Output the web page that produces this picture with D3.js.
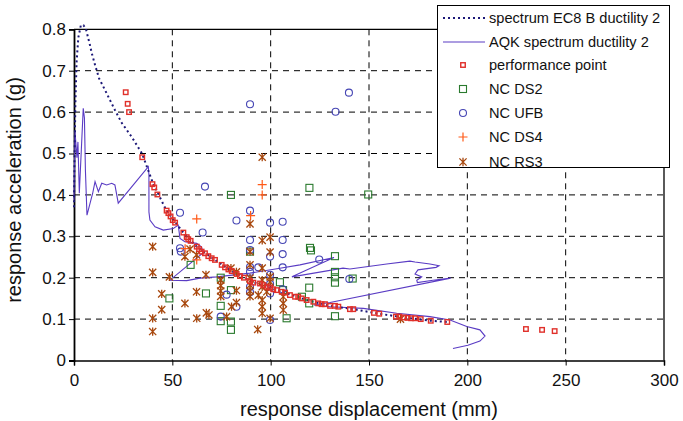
<!DOCTYPE html>
<html><head><meta charset="utf-8">
<script src="https://cdn.jsdelivr.net/npm/d3@7"></script>
<style>
html,body{margin:0;padding:0;background:#fff;}
svg{display:block;font-family:"Liberation Sans",Arial,sans-serif;}
</style></head>
<body><svg id="c" width="683" height="421"></svg>
<script>
// ---------- data ----------
const xTicks = [0, 50, 100, 150, 200, 250, 300];
const yTicks = [0, 0.1, 0.2, 0.3, 0.4, 0.5, 0.6, 0.7, 0.8];
const yTickLabels = ["0", "0.1", "0.2", "0.3", "0.4", "0.5", "0.6", "0.7", "0.8"];
const xTitle = "response displacement (mm)";
const yTitle = "response acceleration (g)";
const seriesNames = ["spectrum EC8 B ductility 2", "AQK spectrum ductility 2", "performance point", "NC DS2", "NC UFB", "NC DS4", "NC RS3"];

// EC8 spectrum (displacement mm, acceleration g)
const ec8 = [[0,0.37],[0.3,0.50],[0.7,0.62],[1.3,0.72],[2.2,0.78],[3.5,0.81],[4.8,0.81],[6.1,0.80],[8.1,0.762],[9.0,0.743],[10.7,0.714],[12.7,0.682],[15.8,0.653],[18.3,0.629],[20.8,0.605],[24.4,0.573],[29.5,0.539],[34.6,0.50],[40,0.43],[47,0.362],[55.6,0.309],[62.4,0.275],[71.7,0.243],[80.2,0.216],[89.5,0.192],[98,0.178],[107.3,0.164],[118.3,0.146],[130.2,0.132],[142,0.124],[155.2,0.113],[167.8,0.104],[181.4,0.096],[190,0.093]];

// AQK spectrum
const aqk = [[0,0.388],[0.5,0.553],[1.5,0.490],[2.0,0.528],[2.7,0.404],[4.7,0.609],[5.3,0.586],[5.8,0.460],[6.6,0.351],[9.5,0.404],[10.7,0.432],[12.4,0.408],[14.1,0.428],[16.6,0.424],[19.2,0.428],[20.8,0.424],[22.5,0.380],[37.8,0.468],[38.1,0.448],[38.1,0.359],[38.6,0.339],[41.2,0.323],[45.4,0.315],[50.5,0.319],[53.0,0.327],[53.9,0.295],[56.4,0.287],[62.4,0.283],[64.9,0.274],[65.6,0.260],[48.8,0.194],[57.3,0.193],[64.1,0.199],[72.6,0.202],[89.5,0.211],[104.7,0.223],[114.9,0.231],[132.2,0.249],[110.8,0.202],[136.8,0.223],[140.3,0.221],[159.0,0.233],[170.8,0.240],[173.4,0.238],[181.0,0.233],[185.6,0.229],[184.1,0.225],[174.9,0.219],[173.4,0.209],[176.8,0.202],[174.3,0.194],[174.6,0.188],[182.5,0.194],[191.5,0.199],[130.2,0.140],[122.0,0.134],[130.2,0.130],[147.1,0.126],[164.1,0.114],[181.0,0.106],[191.2,0.098],[199.7,0.082],[206.4,0.074],[209.0,0.059],[206.4,0.047],[200.3,0.037],[192.7,0.029]];

// performance points
const perf = [[26.3,0.648],[27.3,0.620],[28.0,0.600],[34.7,0.491],[39.9,0.426],[40.8,0.418],[42.4,0.401],[47.1,0.362],[48.0,0.356],[49.1,0.348],[50.2,0.339],[51.4,0.333],[55.6,0.309],[57.3,0.298],[58.1,0.293],[59.3,0.289],[62.4,0.275],[63.6,0.269],[64.9,0.263],[66.6,0.259],[68.3,0.252],[70.0,0.247],[71.7,0.243],[75.1,0.231],[76.8,0.225],[78.5,0.220],[80.2,0.216],[82.7,0.209],[84.4,0.204],[86.4,0.200],[89.5,0.192],[91.2,0.188],[94.6,0.186],[96.3,0.182],[98.0,0.178],[99.7,0.176],[101.3,0.172],[103.1,0.170],[105.6,0.166],[107.3,0.164],[109.8,0.158],[112.4,0.154],[114.0,0.154],[115.8,0.150],[118.3,0.146],[121.7,0.142],[124.2,0.138],[125.9,0.136],[127.6,0.136],[130.2,0.132],[132.7,0.132],[134.4,0.130],[140.3,0.124],[142.0,0.124],[152.5,0.115],[155.2,0.113],[163.7,0.106],[165.4,0.106],[167.8,0.104],[169.6,0.103],[171.4,0.102],[173.4,0.102],[176.3,0.100],[181.4,0.096],[189.8,0.093],[229.8,0.076],[238.0,0.074],[244.4,0.071]];

// NC DS2
const ds2 = [[79.8,0.400],[119.7,0.417],[149.6,0.401],[120.0,0.272],[120.5,0.266],[132.7,0.252],[132.7,0.214],[132.7,0.201],[132.7,0.188],[141.7,0.198],[119.6,0.176],[119.6,0.138],[132.7,0.107],[104.7,0.189],[106.3,0.170],[108.1,0.102],[115.9,0.154],[59.3,0.231],[48.5,0.150],[67.1,0.162],[74.6,0.200],[79.8,0.170],[74.6,0.132],[74.6,0.095],[79.8,0.094],[79.8,0.074],[89.5,0.263]];

// NC UFB
const ufb = [[89.5,0.619],[139.8,0.647],[133.0,0.601],[66.6,0.420],[53.9,0.357],[65.4,0.309],[53.9,0.271],[54.3,0.263],[82.6,0.338],[89.5,0.362],[89.5,0.291],[89.5,0.267],[89.5,0.226],[89.5,0.214],[89.5,0.178],[89.5,0.165],[77.6,0.159],[82.6,0.130],[74.6,0.106],[99.7,0.333],[106.1,0.335],[106.1,0.291],[99.7,0.251],[106.1,0.257],[106.1,0.225],[99.7,0.207],[99.7,0.185],[99.7,0.162],[106.1,0.172],[99.7,0.098],[93.7,0.225],[124.7,0.244],[140.0,0.197]];

// NC DS4
const ds4 = [[95.7,0.425],[95.7,0.400],[62.4,0.342],[89.8,0.350],[56.5,0.270],[62.4,0.243]];

// NC RS3
const rs3 = [[95.7,0.491],[40.0,0.275],[40.0,0.213],[48.5,0.202],[44.6,0.161],[44.6,0.123],[40.0,0.102],[40.0,0.070],[56.4,0.138],[56.4,0.251],[59.0,0.269],[62.3,0.255],[62.3,0.166],[62.4,0.102],[67.1,0.207],[67.3,0.115],[68.6,0.110],[74.6,0.194],[74.6,0.181],[74.6,0.168],[74.6,0.155],[77.6,0.106],[79.8,0.223],[82.6,0.214],[82.6,0.169],[82.6,0.140],[80.1,0.130],[89.5,0.330],[89.5,0.263],[89.5,0.231],[89.5,0.199],[89.5,0.182],[89.5,0.168],[89.5,0.155],[93.7,0.158],[95.7,0.290],[99.7,0.298],[99.7,0.262],[95.7,0.223],[95.7,0.194],[95.7,0.178],[98.0,0.166],[95.7,0.146],[95.7,0.130],[95.7,0.114],[99.7,0.202],[99.7,0.190],[99.7,0.102],[93.4,0.075],[106.4,0.154],[106.4,0.138],[106.4,0.122],[166.0,0.100]];

// ---------- drawing ----------
const svg = d3.select("#c");
const x = d3.scaleLinear().domain([0, 300]).range([74, 664]);
const y = d3.scaleLinear().domain([0, 0.8]).range([360.5, 29.3]);

const C = {ec8:"#1c1878", aqk:"#5a3cc4", perf:"#e0302a", ds2:"#2a7a2e", ufb:"#4646b4", ds4:"#ff5a18", rs3:"#a8480e"};

// grid
const grid = svg.append("g");
grid.selectAll("line.v").data(xTicks.filter(d => d > 0 && d < 300)).join("line")
  .attr("x1", d => x(d)).attr("x2", d => x(d)).attr("y1", y(0.8)).attr("y2", y(0))
  .attr("stroke", "#000").attr("stroke-width", 1).attr("stroke-dasharray", "6,5");
grid.selectAll("line.h").data(yTicks.filter(d => d > 0 && d < 0.8)).join("line")
  .attr("x1", x(0)).attr("x2", x(300)).attr("y1", d => y(d)).attr("y2", d => y(d))
  .attr("stroke", "#000").attr("stroke-width", 1).attr("stroke-dasharray", "6,5");

// frame (top/right)
svg.append("line").attr("x1", x(0)).attr("x2", x(300)).attr("y1", y(0.8)).attr("y2", y(0.8)).attr("stroke", "#000").attr("stroke-width", 1.3);
svg.append("line").attr("x1", x(300)).attr("x2", x(300)).attr("y1", y(0.8)).attr("y2", y(0)).attr("stroke", "#000").attr("stroke-width", 1.3);

// axes
const xAxis = d3.axisBottom(x).tickValues(xTicks).tickSize(5).tickFormat(d3.format("d"));
const gx = svg.append("g").attr("transform", `translate(0,${y(0)})`).call(xAxis);
gx.select(".domain").attr("stroke-width", 1.5);
gx.selectAll("text").attr("font-size", 17).attr("font-family", "Liberation Sans, Arial, sans-serif").attr("fill", "#111").attr("dy", "1.0em");

const yAxis = d3.axisLeft(y).tickValues(yTicks).tickSize(5).tickFormat((d, i) => yTickLabels[i]);
const gy = svg.append("g").attr("transform", `translate(${x(0)},0)`).call(yAxis);
gy.select(".domain").attr("stroke-width", 1.8);
gy.selectAll("text").attr("font-size", 17).attr("font-family", "Liberation Sans, Arial, sans-serif").attr("fill", "#111").attr("x", -8);

svg.append("text").attr("x", 369).attr("y", 416).attr("text-anchor", "middle")
  .attr("font-size", 20).attr("fill", "#111").text(xTitle);
svg.append("text").attr("transform", "translate(21,190) rotate(-90)").attr("text-anchor", "middle")
  .attr("font-size", 20).attr("fill", "#111").text(yTitle);

// lines
const line = d3.line().x(d => x(d[0])).y(d => y(d[1]));
svg.append("path").datum(aqk).attr("d", line).attr("fill", "none").attr("stroke", C.aqk).attr("stroke-width", 1.1);
svg.append("path").datum(ec8).attr("d", line).attr("fill", "none").attr("stroke", C.ec8).attr("stroke-width", 2).attr("stroke-dasharray", "2,3");

// markers
function sq(g, data, s, col, sw) {
  g.selectAll(null).data(data).join("rect")
    .attr("x", d => x(d[0]) - s/2).attr("y", d => y(d[1]) - s/2).attr("width", s).attr("height", s)
    .attr("fill", "none").attr("stroke", col).attr("stroke-width", sw);
}
function circ(g, data, r, col) {
  g.selectAll(null).data(data).join("circle")
    .attr("cx", d => x(d[0])).attr("cy", d => y(d[1])).attr("r", r)
    .attr("fill", "none").attr("stroke", col).attr("stroke-width", 1.1);
}
function plus(g, data, s, col) {
  g.selectAll(null).data(data).join("path")
    .attr("d", d => { const cx = x(d[0]), cy = y(d[1]); return `M${cx-s},${cy}H${cx+s}M${cx},${cy-s}V${cy+s}`; })
    .attr("fill", "none").attr("stroke", col).attr("stroke-width", 1.2);
}
function star(g, data, s, col) {
  g.selectAll(null).data(data).join("path")
    .attr("d", d => { const cx = x(d[0]), cy = y(d[1]); return `M${cx-s},${cy-s}L${cx+s},${cy+s}M${cx-s},${cy+s}L${cx+s},${cy-s}M${cx},${cy-s*1.15}V${cy+s*1.15}`; })
    .attr("fill", "none").attr("stroke", col).attr("stroke-width", 1.3);
}
const gm = svg.append("g");
sq(gm.append("g"), ds2, 7, C.ds2, 1.1);
circ(gm.append("g"), ufb, 3.5, C.ufb);
plus(gm.append("g"), ds4, 4.5, C.ds4);
star(gm.append("g"), rs3, 3.6, C.rs3);
sq(gm.append("g"), perf, 4.5, C.perf, 1.4);

// legend
const lg = svg.append("g");
lg.append("rect").attr("x", 437.5).attr("y", 5.5).attr("width", 232).attr("height", 162).attr("fill", "#fff").attr("stroke", "#000").attr("stroke-width", 1);
const rowsY = [18, 42, 65, 89, 113, 137, 162];
const lx = 463;
lg.append("line").attr("x1", 443).attr("x2", 485).attr("y1", rowsY[0]).attr("y2", rowsY[0]).attr("stroke", C.ec8).attr("stroke-width", 2).attr("stroke-dasharray", "2,3");
lg.append("line").attr("x1", 443).attr("x2", 485).attr("y1", rowsY[1]).attr("y2", rowsY[1]).attr("stroke", C.aqk).attr("stroke-width", 1.1);
const inv = (px, py) => [x.invert(px), y.invert(py)];
sq(lg.append("g"), [inv(lx, rowsY[2])], 4.5, C.perf, 1.4);
sq(lg.append("g"), [inv(lx, rowsY[3])], 7, C.ds2, 1.1);
circ(lg.append("g"), [inv(lx, rowsY[4])], 3.5, C.ufb);
plus(lg.append("g"), [inv(lx, rowsY[5])], 4.5, C.ds4);
star(lg.append("g"), [inv(lx, rowsY[6])], 3.6, C.rs3);
lg.selectAll("text.l").data(seriesNames).join("text")
  .attr("x", 489).attr("y", (d, i) => rowsY[i] + 5).attr("font-size", 14.6).attr("fill", "#111").text(d => d);
</script></body></html>
